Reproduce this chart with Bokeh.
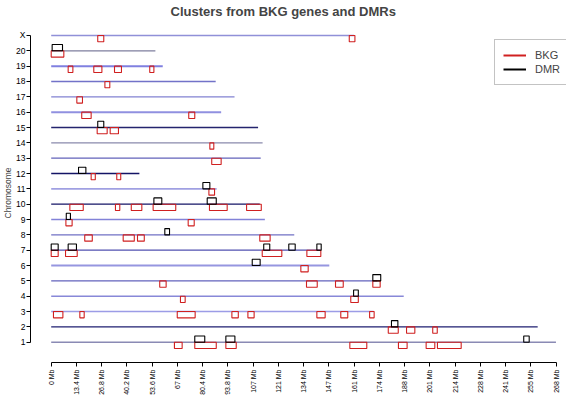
import math
from bokeh.plotting import figure
from bokeh.models import FixedTicker, Range1d, Legend, LegendItem, ColumnDataSource
from bokeh.embed import file_html
from bokeh.resources import INLINE

# ---------------- data ----------------
chrom_names = ["1", "2", "3", "4", "5", "6", "7", "8", "9", "10", "11", "12",
               "13", "14", "15", "16", "17", "18", "19", "20", "X"]
chrom_len = [267.9, 258.2, 171.1, 187.1, 173.1, 147.6, 143.0, 129.0, 113.4, 110.7,
             87.8, 46.8, 111.2, 112.2, 109.8, 90.2, 97.3, 87.3, 59.2, 55.3, 160.7]

# BKG gene clusters (chromosome index 1..21, start Mb, end Mb)
bkg_chr = [21, 21, 20, 19, 19, 19, 19, 18, 17, 16, 16, 15, 15, 14, 13, 12, 12, 11,
           10, 10, 10, 10, 10, 10, 9, 9, 8, 8, 8, 8, 7, 7, 7, 7, 6, 5, 5, 5, 5, 4, 4,
           3, 3, 3, 3, 3, 3, 3, 3, 2, 2, 2, 1, 1, 1, 1, 1, 1, 1]
bkg_start = [24.7, 158.2, 0.0, 9.0, 22.6, 33.6, 52.3, 28.5, 13.6, 16.2, 73.0,
             24.4, 31.3, 84.2, 85.2, 21.2, 34.8, 83.7,
             9.9, 34.1, 42.5, 54.1, 84.0, 103.7, 7.8, 72.7,
             17.8, 38.2, 45.8, 110.7, 0.0, 7.6, 112.0, 135.7, 132.5,
             57.6, 135.5, 150.9, 170.7, 68.6, 159.0,
             1.2, 15.2, 66.9, 95.9, 104.4, 141.0, 153.7, 169.0,
             178.9, 188.6, 202.5, 65.4, 76.2, 92.7, 158.5, 184.3, 199.0, 205.0]
bkg_end = [27.9, 161.2, 6.7, 11.5, 26.9, 37.3, 54.5, 31.1, 16.6, 21.2, 76.2,
           29.7, 35.7, 86.3, 90.2, 23.4, 36.9, 86.7,
           17.0, 36.4, 48.1, 66.1, 93.4, 111.5, 11.1, 75.9,
           21.8, 44.1, 49.4, 116.2, 3.7, 13.8, 122.4, 143.1, 136.4,
           61.0, 141.2, 155.0, 174.6, 71.1, 163.0,
           6.2, 17.5, 76.4, 99.3, 107.7, 145.4, 157.4, 171.4,
           184.2, 193.0, 204.9, 69.5, 87.6, 98.2, 167.5, 188.9, 203.6, 217.6]

# DMR clusters
dmr_chr = [20, 15, 12, 11, 10, 10, 9, 8, 7, 7, 7, 7, 7, 6, 5, 4, 2, 1, 1, 1]
dmr_start = [0.5, 24.7, 14.5, 80.5, 54.5, 82.8, 8.0, 60.3, 0.0, 9.0, 112.8, 126.1,
             141.0, 106.7, 170.7, 160.5, 180.6, 76.2, 92.7, 250.8]
dmr_end = [6.0, 27.9, 18.4, 84.2, 58.7, 87.6, 10.2, 62.8, 3.7, 13.4, 116.0, 129.5,
           143.3, 110.9, 174.9, 163.0, 184.0, 81.5, 97.5, 253.7]

tick_pos = [0, 13.4, 26.8, 40.2, 53.6, 67, 80.4, 93.8, 107.2, 120.6, 134, 147.4,
            160.8, 174.2, 187.6, 201, 214.4, 227.8, 241.2, 254.6, 268]
tick_labels = ["0 Mb", "13.4 Mb", "26.8 Mb", "40.2 Mb", "53.6 Mb", "67 Mb", "80.4 Mb",
               "93.8 Mb", "107 Mb", "121 Mb", "134 Mb", "147 Mb", "161 Mb", "174 Mb",
               "188 Mb", "201 Mb", "214 Mb", "228 Mb", "241 Mb", "255 Mb", "268 Mb"]

# ---------------- styles ----------------
line_colors = ["#8a8ab4", "#1e1e70", "#9c9ce6", "#8888d8", "#6262bc", "#9696e0",
               "#5050b0", "#7070c4", "#8282d8", "#141466", "#a0a0e2", "#141466",
               "#6262ba", "#8a8aac", "#24246e", "#9090e0", "#8282d2", "#7272c8",
               "#8080e0", "#7e7e9e", "#9090d8"]
line_widths = [1.6, 1.3, 1.6, 1.3, 1.3, 2.0, 1.3, 1.3, 1.6, 1.3, 1.8, 1.3,
               1.3, 1.3, 1.3, 2.0, 1.3, 1.3, 2.0, 1.3, 1.6]
RED = "#d02020"
FONT = "Liberation Sans"

p = figure(width=567, height=398, output_backend="svg", toolbar_location=None,
           x_range=Range1d(-10.99, 273.5), y_range=Range1d(-0.32, 21.78),
           min_border_left=30, min_border_right=1, min_border_top=22,
           min_border_bottom=36)

p.title.text = "Clusters from BKG genes and DMRs"
p.title.text_font = FONT
p.title.text_font_size = "13px"
p.title.text_font_style = "bold"
p.title.align = "left"
p.title.vertical_align = "top"
p.title.offset = 140
p.title.standoff = 6

p.grid.visible = False
p.outline_line_color = None
p.background_fill_color = "white"
p.border_fill_color = "white"

# chromosome lines
seg_src = ColumnDataSource(dict(
    x0=[0.0] * len(chrom_len), x1=chrom_len,
    y=list(range(1, len(chrom_len) + 1)),
    c=line_colors, w=line_widths))
p.segment(x0="x0", y0="y", x1="x1", y1="y", source=seg_src,
          line_color="c", line_width="w")

H = 0.41
bkg_src = ColumnDataSource(dict(
    left=bkg_start, right=bkg_end,
    top=bkg_chr, bottom=[c - H for c in bkg_chr]))
p.quad(left="left", right="right", top="top", bottom="bottom", source=bkg_src,
       fill_alpha=0, line_color=RED, line_width=1.1)

dmr_src = ColumnDataSource(dict(
    left=dmr_start, right=dmr_end,
    bottom=dmr_chr, top=[c + H for c in dmr_chr]))
p.quad(left="left", right="right", top="top", bottom="bottom", source=dmr_src,
       fill_alpha=0, line_color="black", line_width=1.1)

# axes
xa = p.xaxis[0]
xa.ticker = FixedTicker(ticks=tick_pos)
xa.major_label_overrides = dict(zip(tick_pos, tick_labels))
xa.major_label_orientation = math.pi / 2
xa.bounds = (0, 268)
xa.major_tick_in = 0
xa.major_tick_out = 4
xa.minor_tick_line_color = None
xa.major_label_standoff = 3
xa.major_label_text_font = FONT
xa.major_label_text_font_size = "7px"
xa.major_label_text_color = "black"
xa.axis_line_color = "black"
xa.major_tick_line_color = "black"

ya = p.yaxis[0]
ya.ticker = FixedTicker(ticks=list(range(1, len(chrom_names) + 1)))
ya.major_label_overrides = {i + 1: n for i, n in enumerate(chrom_names)}
ya.bounds = (1, len(chrom_names))
ya.major_tick_in = 0
ya.major_tick_out = 4
ya.minor_tick_line_color = None
ya.major_label_standoff = 1
ya.major_label_text_font = FONT
ya.major_label_text_font_size = "8.5px"
ya.major_label_text_color = "black"
ya.axis_label = "Chromosome"
ya.axis_label_text_font = FONT
ya.axis_label_text_font_size = "8.5px"
ya.axis_label_text_font_style = "normal"
ya.axis_label_standoff = 0
ya.axis_line_color = "black"
ya.major_tick_line_color = "black"

# legend (proxy renderers with no visible data)
nan = float("nan")
r1 = p.line([nan], [nan], line_color=RED, line_width=2)
r2 = p.line([nan], [nan], line_color="black", line_width=2)
legend = Legend(items=[LegendItem(label="BKG", renderers=[r1]),
                       LegendItem(label="DMR", renderers=[r2])],
                location=(464, 277))
legend.border_line_color = "#888888"
legend.border_line_width = 1
legend.background_fill_color = "white"
legend.background_fill_alpha = 1
legend.label_text_font = FONT
legend.label_text_font_size = "11px"
legend.glyph_width = 23
legend.glyph_height = 14
legend.label_height = 14
legend.label_standoff = 9
legend.spacing = 0
legend.padding = 8
legend.margin = 0
p.add_layout(legend)

open("out.html", "w").write(file_html(p, INLINE))
